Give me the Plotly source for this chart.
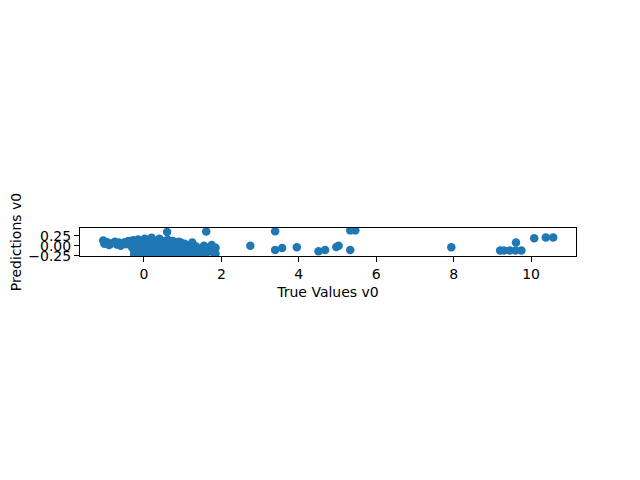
import plotly.graph_objects as go

# true vs predicted values
true_vals = [
    -1.05, -1.02, -0.95, -0.90, -0.85, -0.75, -0.70, -0.65, -0.60, -0.55, -0.50, -0.45,
    -0.40, -0.35, -0.30, -0.28, -0.25, -0.20, -0.15, -0.12, -0.10, -0.05, 0.00,
    0.02, 0.05, 0.08, 0.10, 0.15, 0.20, 0.22, 0.25, 0.30, 0.35,
    0.40, 0.42, 0.45, 0.50, 0.55, 0.60, 0.62, 0.65, 0.70, 0.75,
    0.80, 0.85, 0.90, 0.95, 1.00, 1.05, 1.10, 1.15, 1.25, 1.30,
    1.35, 1.45, 1.55, 1.60, 1.65, 1.75, 1.80, 1.61,
    -0.20, 0.00, 0.10, 0.30, 0.50, 0.60, 0.20, 0.40, -0.10, 0.70,
    0.85, 1.20, 1.50, -0.30, -0.15, 0.05, 0.15, 0.35, 0.55, 0.75,
    0.95, 1.10, 1.40, 1.70, 1.85, -0.05, 0.25, 0.45, 0.65, 0.90,
    1.05, 1.35, 1.85, -0.25, 0.10, 0.30, 0.55, 0.80, 1.00, 1.30,
    2.75, 3.39, 3.39, 3.57, 3.95, 4.51, 4.68, 4.97, 5.03, 5.33, 5.33, 5.46,
    7.94, 9.20, 9.30, 9.45, 9.60, 9.75, 9.61, 10.08, 10.38, 10.57,
]
pred_vals = [
    0.13, 0.05, 0.09, 0.02, 0.06, 0.10, 0.03, 0.08, 0.00, 0.06, 0.09, 0.04,
    0.12, 0.10, -0.05, 0.14, -0.15, 0.05, 0.16, -0.20, 0.00, 0.12, -0.10,
    0.18, 0.05, -0.22, 0.15, -0.05, 0.20, 0.08, -0.18, 0.12, -0.10,
    0.18, 0.02, -0.22, 0.10, -0.05, 0.35, 0.15, -0.20, 0.05, 0.12,
    -0.12, 0.00, -0.20, 0.08, -0.08, -0.20, 0.02, -0.12, 0.08, -0.05,
    -0.20, -0.10, 0.00, -0.20, -0.05, 0.02, -0.18, 0.36,
    -0.10, 0.05, -0.15, -0.20, 0.00, -0.15, 0.00, -0.10, 0.08, -0.20,
    -0.22, -0.20, -0.22, 0.02, -0.05, -0.12, 0.10, 0.05, 0.12, -0.05,
    -0.15, -0.08, -0.15, -0.12, -0.05, -0.18, -0.08, 0.08, -0.10, 0.10,
    0.05, -0.02, -0.20, -0.22, 0.00, -0.05, -0.20, 0.00, -0.15, -0.12,
    0.00, 0.37, -0.11, -0.06, -0.04, -0.14, -0.11, -0.03, 0.00, -0.11, 0.39, 0.39,
    -0.04, -0.12, -0.12, -0.12, -0.12, -0.12, 0.08, 0.19, 0.21, 0.21,
]

font = dict(family="DejaVu Sans", size=14, color="black")

fig = go.Figure()
fig.add_trace(go.Scatter(
    x=true_vals, y=pred_vals, mode="markers",
    marker=dict(color="#1f77b4", size=8.5, line=dict(width=0)),
    showlegend=False,
))

fig.update_layout(
    width=640, height=480,
    margin=dict(l=72, r=72, t=220, b=232),
    paper_bgcolor="white", plot_bgcolor="white",
    font=font,
)
fig.update_xaxes(
    range=[-1.65, 11.16], tickvals=[0, 2, 4, 6, 8, 10],
    showgrid=False, zeroline=False,
    showline=True, linecolor="black", linewidth=1, mirror=True,
    ticks="outside", ticklen=5, tickcolor="black",
    title=dict(text="True Values v0", standoff=6, font=font),
    automargin=False,
)
fig.update_yaxes(
    range=[-0.26, 0.45], tickvals=[-0.25, 0.0, 0.25], tickformat=".2f",
    showgrid=False, zeroline=False,
    showline=True, linecolor="black", linewidth=1, mirror=True,
    ticks="outside", ticklen=5, tickcolor="black",
    title=dict(text="Predictions v0", standoff=16, font=font),
    automargin=False,
)

fig.write_html("out.html")
